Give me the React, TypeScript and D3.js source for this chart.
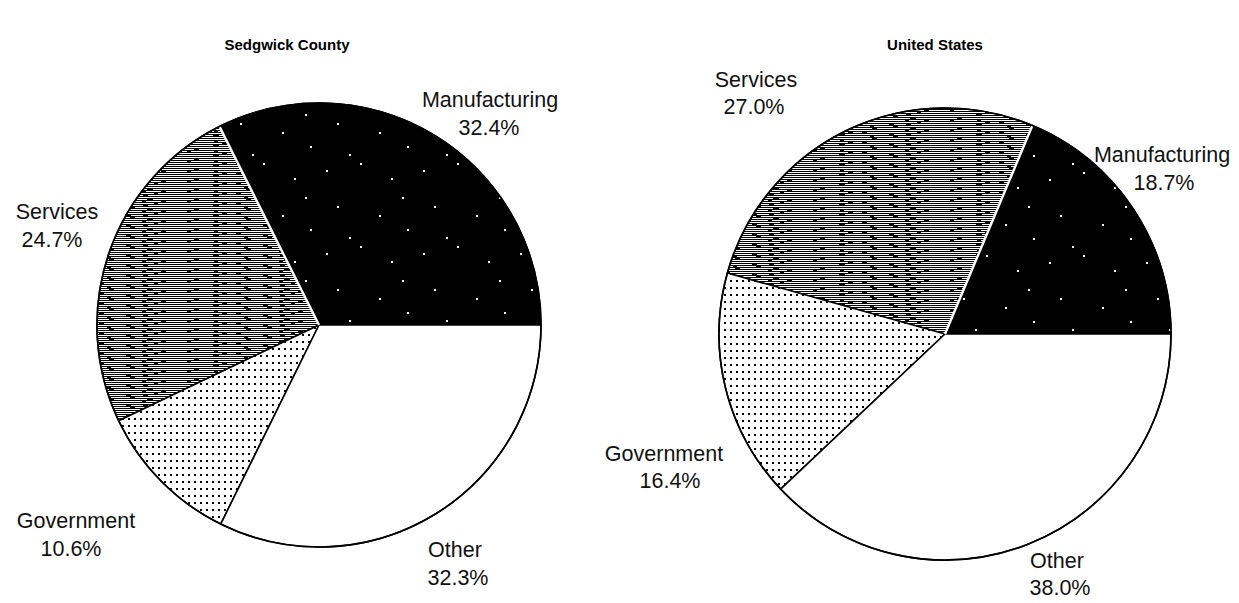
import React from "react";
import * as d3 from "d3";

const categories = ["Manufacturing", "Services", "Government", "Other"];
const sedgwickValues = [32.4, 24.7, 10.6, 32.3];
const usValues = [18.7, 27.0, 16.4, 38.0];
const titles = ["Sedgwick County", "United States"];
const fills = ["url(#pManu)", "url(#pServ)", "url(#pGov)", "#ffffff"];

// layout: per pie center, radius, label positions [x1, y1, x2, y2] (line baselines)
const layout = [
  {
    cx: 319, cy: 325, r: 222, titleX: 287, titleY: 50,
    labels: [
      [490, 107, 489, 135],
      [57, 219, 52, 247],
      [76, 528, 71, 556],
      [455, 557, 458, 585],
    ],
  },
  {
    cx: 945, cy: 334, r: 226, titleX: 935, titleY: 50,
    labels: [
      [1162, 162, 1164, 190],
      [756, 87, 754, 114],
      [664, 461, 670, 488],
      [1057, 568, 1060, 595],
    ],
  },
];

const manuSpecks = [
  [7, 11], [41, 4], [72, 19], [18, 47], [60, 56], [88, 70], [30, 78], [83, 38],
];
// horizontal streak segments of the Services texture: [x, row, length]
const servRows = [
  [0, 0, 31], [37, 0, 44], [86, 0, 12], [103, 0, 34],
  [0, 2, 62], [66, 2, 19], [90, 2, 47],
  [0, 4, 12], [17, 4, 47], [69, 4, 33], [108, 4, 29],
  [0, 6, 5], [9, 6, 23], [36, 6, 61], [101, 6, 15], [121, 6, 16],
  [0, 8, 40], [45, 8, 9], [59, 8, 50], [113, 8, 24],
];

function Pie({ values, title, L }: any) {
  const pie = d3
    .pie<number>()
    .sort(null)
    .startAngle(Math.PI / 2)
    .endAngle(Math.PI / 2 - 2 * Math.PI);
  const arcs = pie(values);
  const arc = d3.arc<any>().innerRadius(0).outerRadius(L.r);
  const servStart = arcs[1].startAngle;
  const wx = Math.sin(servStart) * L.r;
  const wy = -Math.cos(servStart) * L.r;
  return (
    <g>
      <text
        x={L.titleX}
        y={L.titleY}
        textAnchor="middle"
        fontFamily="Liberation Sans, Arial, sans-serif"
        fontWeight="bold"
        fontSize={15}
      >
        {title}
      </text>
      <g transform={`translate(${L.cx},${L.cy})`}>
        {arcs.map((a, i) => (
          <path
            key={i}
            d={arc(a) as string}
            fill={fills[i]}
            stroke="#000"
            strokeWidth={1.6}
            strokeLinejoin="round"
          />
        ))}
        <line x1={0} y1={0} x2={wx} y2={wy} stroke="#fff" strokeWidth={2.4} />
        <circle r={L.r} fill="none" stroke="#000" strokeWidth={1.6} />
      </g>
      {categories.map((c, i) => {
        const p = L.labels[i];
        return (
          <g key={c} fontFamily="Liberation Sans, Arial, sans-serif" fontSize={21.5} fill="#111">
            <text x={p[0]} y={p[1]} textAnchor="middle">{c}</text>
            <text x={p[2]} y={p[3]} textAnchor="middle">{d3.format(".1f")(values[i])}%</text>
          </g>
        );
      })}
    </g>
  );
}

export default function App() {
  return (
    <svg
      width={1239}
      height={603}
      style={{ position: "absolute", left: 0, top: 0, background: "#fff" }}
    >
      <defs>
        <pattern id="pManu" width={97} height={83} patternUnits="userSpaceOnUse">
          <rect width={97} height={83} fill="#000" />
          {manuSpecks.map((s, i) => (
            <rect key={i} x={s[0]} y={s[1]} width={2} height={2} fill="#fff" />
          ))}
        </pattern>
        <pattern id="pServ" width={137} height={10} patternUnits="userSpaceOnUse">
          <rect width={137} height={10} fill="#000" />
          {servRows.map((s, i) => (
            <rect key={i} x={s[0]} y={s[1]} width={s[2]} height={1} fill="#fff" />
          ))}
        </pattern>
        <pattern id="pGov" width={6} height={7} patternUnits="userSpaceOnUse">
          <rect width={6} height={7} fill="#fff" />
          <rect x={1} y={2} width={2} height={2} fill="#000" />
        </pattern>
      </defs>
      {[sedgwickValues, usValues].map((v, k) => (
        <Pie key={k} values={v} title={titles[k]} L={layout[k]} />
      ))}
    </svg>
  );
}
